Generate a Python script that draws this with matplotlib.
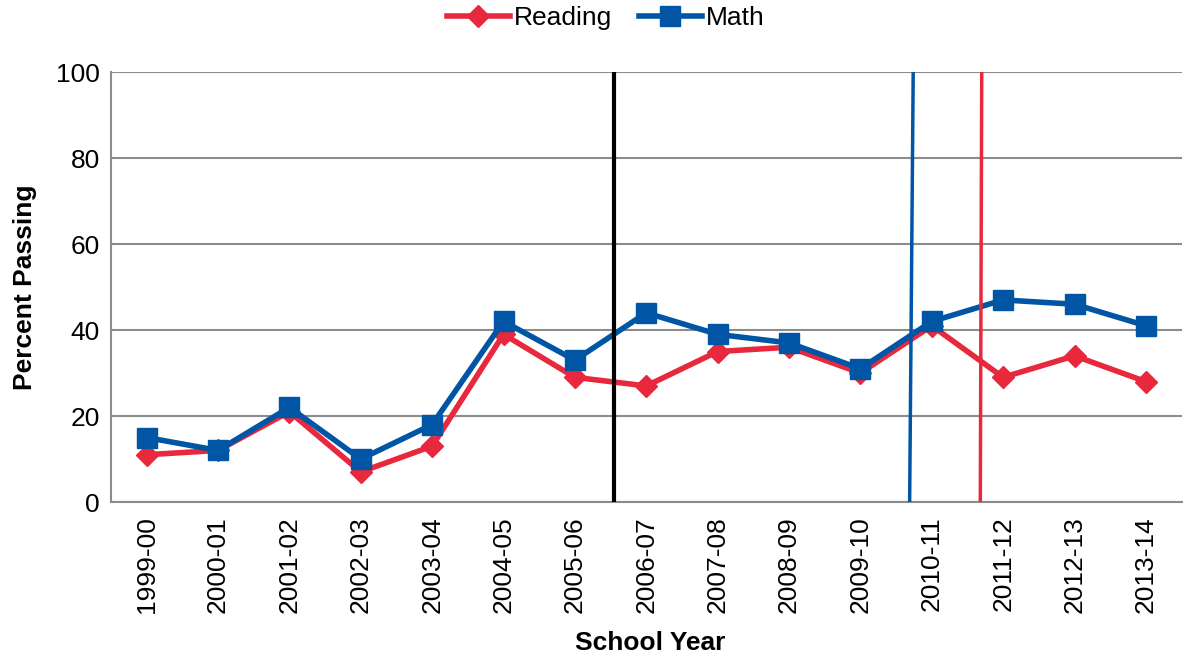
import matplotlib.pyplot as plt
import numpy as np

plt.rcParams['font.family'] = ['Liberation Sans', 'DejaVu Sans']

# data
years = ["1999-00", "2000-01", "2001-02", "2002-03", "2003-04", "2004-05",
         "2005-06", "2006-07", "2007-08", "2008-09", "2009-10", "2010-11",
         "2011-12", "2012-13", "2013-14"]
reading = [11, 12, 21, 7, 13, 39, 29, 27, 35, 36, 30, 41, 29, 34, 28]
math = [15, 12, 22, 10, 18, 42, 33, 44, 39, 37, 31, 42, 47, 46, 41]

# vertical marker lines (category position at bottom, at top)
black_line = (6.55, 6.55)
blue_line = (10.69, 10.74)
red_line = (11.68, 11.70)

RED = "#E8283C"
BLUE = "#0055A4"
GRID = "#8C8C8C"

fig = plt.figure(figsize=(11.83, 6.53), dpi=100)
ax = fig.add_axes([0.0938, 0.2312, 0.905, 0.6585])

x = np.arange(len(years))

ax.plot(x, reading, color=RED, lw=4, marker="D", ms=11, label="Reading", zorder=3)
ax.plot(x, math, color=BLUE, lw=4, marker="s", ms=14, label="Math", zorder=4)

ax.plot(black_line, (0, 100), color="black", lw=3, zorder=5)
ax.plot(blue_line, (0, 100), color=BLUE, lw=2.5, zorder=5)
ax.plot(red_line, (0, 100), color=RED, lw=2.5, zorder=5)

ax.set_xlim(-0.5, len(years) - 0.5)
ax.set_ylim(0, 100)
ax.set_yticks(range(0, 101, 20))
ax.set_xticks(x)
ax.set_xticklabels(years, rotation=90)

ax.yaxis.grid(True, color=GRID, lw=1.5)
ax.set_axisbelow(True)
for side in ["top", "right"]:
    ax.spines[side].set_visible(False)
ax.spines["left"].set_color(GRID)
ax.spines["bottom"].set_color(GRID)
ax.spines["left"].set_linewidth(1.5)
ax.spines["bottom"].set_linewidth(1.5)
ax.tick_params(axis="both", length=0, labelsize=19, pad=8)
ax.tick_params(axis="x", pad=10)

ax.set_xlabel("School Year", fontsize=19, fontweight="bold", labelpad=8)
ax.set_ylabel("Percent Passing", fontsize=19, fontweight="bold", labelpad=14)
ax.xaxis.set_label_coords(0.504, -0.30)

ax.legend(loc="lower center", bbox_to_anchor=(0.462, 1.06), ncol=2, frameon=False,
          fontsize=19, handlelength=2.4, columnspacing=1.0, handletextpad=0.15,
          borderpad=0.1)

fig.savefig("out.png")
